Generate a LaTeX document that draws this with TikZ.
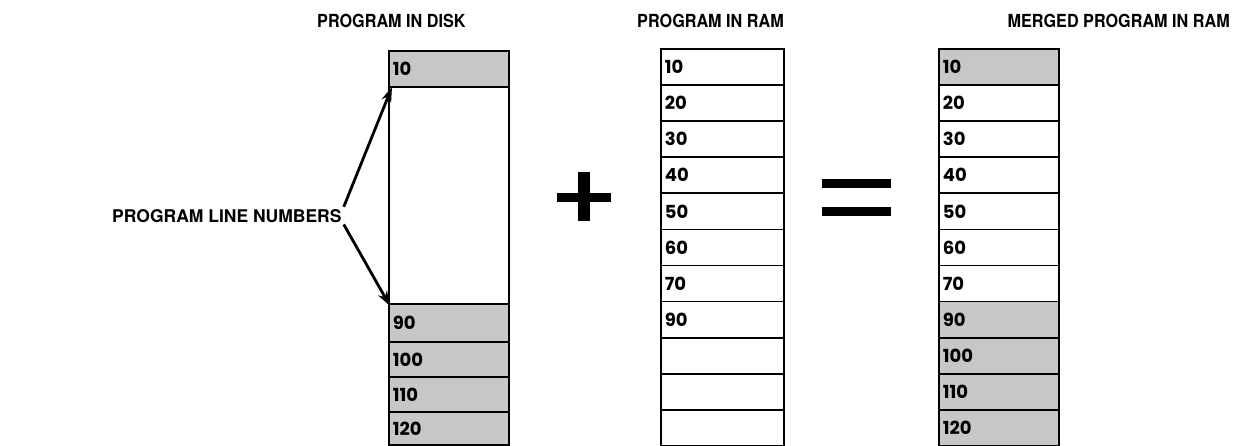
\documentclass[tikz,border=0pt]{standalone}
\usepackage{fontspec}
\setmainfont{TeX Gyre Heros}
\newfontfamily\titlefont{TeX Gyre Heros}[FakeStretch=0.9]
\newfontfamily\numfont{Poppins}
\usetikzlibrary{arrows.meta}
\begin{document}
\begin{tikzpicture}[x=1pt,y=-1pt,
  cellbox/.style={draw, line width=1.7pt, anchor=north west, inner xsep=4pt, inner ysep=0pt,
     align=left, font=\numfont\bfseries\fontsize{18}{18}\selectfont},
  shade/.style={fill=black!22},
  titletext/.style={inner sep=0pt, font=\titlefont\bfseries\fontsize{18}{18}\selectfont},
  arr/.style={line width=2.8pt, -{Stealth[length=15pt,width=10pt]}},
  bar/.style={fill=black, draw=none}]
\useasboundingbox (0,0) rectangle (1236,445);
% titles
\node[titletext, anchor=base west] (t1) at (317,27) {PROGRAM IN DISK};
\node[titletext, anchor=base west] (t2) at (637,27) {PROGRAM IN RAM};
\node[titletext, anchor=base east] (t3) at (1230,27) {MERGED PROGRAM IN RAM};
% disk column
\node[cellbox, shade, minimum width=120pt, text width=112pt, minimum height=36pt] (d1) at (388,50) {10};
\node[cellbox, minimum width=120pt, text width=112pt, minimum height=217pt] (d2) at (388,86) {};
\node[cellbox, shade, minimum width=120pt, text width=112pt, minimum height=38pt] (d3) at (388,303) {90};
\node[cellbox, shade, minimum width=120pt, text width=112pt, minimum height=35pt] (d4) at (388,341) {100};
\node[cellbox, shade, minimum width=120pt, text width=112pt, minimum height=35pt] (d5) at (388,376) {110};
\node[cellbox, shade, minimum width=120pt, text width=112pt, minimum height=33pt] (d6) at (388,411) {120};
% RAM column
\foreach \i/\t in {0/10,1/20,2/30,3/40,4/50,5/60,6/70,7/90,8/,9/,10/}{
  \node[cellbox, minimum width=123pt, text width=115pt, minimum height=36.1pt] (r\i) at (660,48+36.1*\i) {\t};
}
% merged column
\foreach \i/\t/\s in {0/10/shade,1/20/,2/30/,3/40/,4/50/,5/60/,6/70/,7/90/shade,8/100/shade,9/110/shade,10/120/shade}{
  \node[cellbox, \s, minimum width=120pt, text width=112pt, minimum height=36.1pt] (m\i) at (938,48+36.1*\i) {\t};
}
% plus and equals
\fill[bar] (557,193) rectangle (611,202);
\fill[bar] (578,172) rectangle (590,221);
\fill[bar] (822,179) rectangle (891,188);
\fill[bar] (822,207) rectangle (891,216);
% label and arrows
\node[anchor=base west, inner sep=2pt, font=\bfseries\fontsize{17.5}{17.5}\selectfont] (lbl) at (110,222) {PROGRAM LINE NUMBERS};
\coordinate (a1) at (392,87);
\coordinate (a2) at (390,306);
\draw[arr] (lbl.north east) -- (a1);
\draw[arr] (lbl.south east) -- (a2);
\end{tikzpicture}
\end{document}
